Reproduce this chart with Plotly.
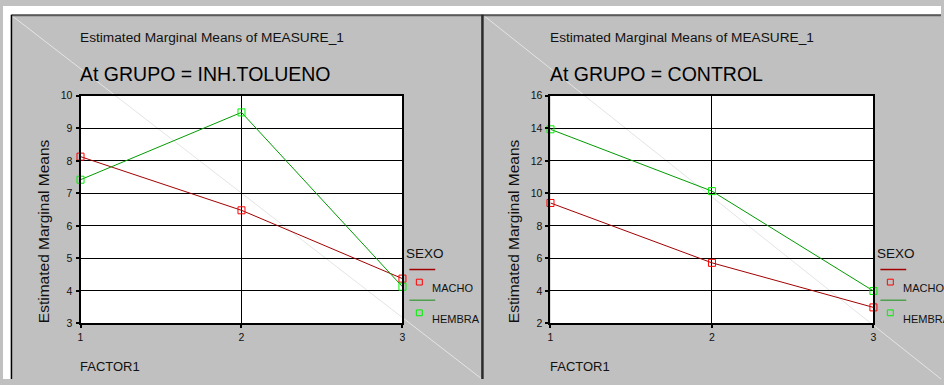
import plotly.graph_objects as go

# Estimated marginal means of MEASURE_1, by FACTOR1 level and SEXO, per GRUPO
factor_levels = [1, 2, 3]
groups = ["INH.TOLUENO", "CONTROL"]
macho_tolueno = [8.13, 6.48, 4.38]
hembra_tolueno = [7.42, 9.49, 4.13]
macho_control = [9.41, 5.73, 2.99]
hembra_control = [13.94, 10.14, 4.00]
y_ranges = [[3, 10], [2, 16]]
y_dticks = [1, 2]

W, H = 944, 385
FONT = "Liberation Sans, Arial, sans-serif"
GREY = "#c0c0c0"
MACHO_LINE, MACHO_MARK = "#a00000", "#ff0000"
HEMBRA_LINE, HEMBRA_MARK = "#009a00", "#00f000"
LEG_MACHO, LEG_HEMBRA = "#a00000", "#50a050"


def fx(p):
    return p / W


def fy(p):
    return 1 - p / H


# plot areas in pixels: left, right, top, bottom
areas = [(78, 402, 92.7, 327.7), (551, 876, 92.7, 327.7)]

fig = go.Figure()
series = [(macho_tolueno, hembra_tolueno), (macho_control, hembra_control)]
for i, (macho, hembra) in enumerate(series):
    ax = "" if i == 0 else "2"
    for vals, lc, mc, name in [(macho, MACHO_LINE, MACHO_MARK, "MACHO"),
                               (hembra, HEMBRA_LINE, HEMBRA_MARK, "HEMBRA")]:
        fig.add_trace(go.Scatter(
            x=factor_levels, y=vals, mode="lines+markers", name=name,
            xaxis="x" + ax, yaxis="y" + ax, showlegend=False, cliponaxis=False,
            line=dict(color=lc, width=1),
            marker=dict(symbol="square-open", size=7, color=mc, line=dict(color=mc, width=1)),
        ))

axis_common = dict(
    showline=True, linecolor="black", linewidth=2, mirror=True,
    showgrid=True, gridcolor="#000000", gridwidth=1,
    ticks="outside", ticklen=3, tickwidth=2, tickcolor="black",
    tickfont=dict(family=FONT, size=10.5, color="#111111"),
    zeroline=False, fixedrange=True,
)

layout = dict(
    width=W, height=H, autosize=False,
    margin=dict(l=0, r=0, t=0, b=0, pad=0),
    paper_bgcolor=GREY, plot_bgcolor="white",
    showlegend=False,
)
for i, (l, r, t, b) in enumerate(areas):
    ax = "" if i == 0 else "2"
    layout["xaxis" + ax] = dict(
        axis_common, domain=[fx(l), fx(r)], range=[1, 3],
        tickvals=factor_levels, ticktext=[str(v) for v in factor_levels],
        anchor="y" + ax, ticklabelstandoff=0,
    )
    layout["yaxis" + ax] = dict(
        axis_common, domain=[fy(b), fy(t)], range=y_ranges[i], dtick=y_dticks[i],
        tick0=y_ranges[i][0], anchor="x" + ax, ticklabelstandoff=1,
    )
fig.update_layout(**layout)

shapes = []
annotations = []
panel_x0 = [9, 484]
panel_x1 = [482, 944]
for i, (l, r, t, b) in enumerate(areas):
    px0, px1 = panel_x0[i], panel_x1[i]
    # faint diagonal across the panel
    shapes.append(dict(type="line", xref="paper", yref="paper",
                       x0=fx(px0), y0=fy(10), x1=fx(px1), y1=fy(H),
                       line=dict(color="#e4e4e4", width=1), layer="below"))
    # titles
    annotations.append(dict(text="Estimated Marginal Means of MEASURE_1",
                            x=fx(l - 3), y=fy(32.5), xanchor="left", yanchor="middle",
                            font=dict(family=FONT, size=13.7, color="#111111")))
    annotations.append(dict(text="At GRUPO = " + groups[i],
                            x=fx(l - 3), y=fy(70), xanchor="left", yanchor="middle",
                            font=dict(family=FONT, size=19.5, color="#000000")))
    # axis titles
    annotations.append(dict(text="Estimated Marginal Means", textangle=-90,
                            x=fx(l - 37), y=fy(b + 2), xanchor="center", yanchor="bottom",
                            font=dict(family=FONT, size=15.5, color="#111111")))
    annotations.append(dict(text="FACTOR1",
                            x=fx(l - 3), y=fy(371.7), xanchor="left", yanchor="middle",
                            font=dict(family=FONT, size=13, color="#111111")))
    # legend
    lx = r + 5
    annotations.append(dict(text="SEXO", x=fx(lx - 3), y=fy(255), xanchor="left",
                            yanchor="middle",
                            font=dict(family=FONT, size=13.5, color="#111111")))
    for row, (lc, mc, name) in enumerate([(LEG_MACHO, MACHO_MARK, "MACHO"),
                                          (LEG_HEMBRA, HEMBRA_MARK, "HEMBRA")]):
        ly = 272 + row * 31.7
        shapes.append(dict(type="line", xref="paper", yref="paper",
                           x0=fx(lx + 2), x1=fx(lx + 28), y0=fy(ly), y1=fy(ly),
                           line=dict(color=lc, width=1.5)))
        mx, my = lx + 12, ly + 13
        shapes.append(dict(type="rect", xref="paper", yref="paper",
                           x0=fx(mx - 3), x1=fx(mx + 3), y0=fy(my - 3), y1=fy(my + 3),
                           line=dict(color=mc, width=1)))
        annotations.append(dict(text=name, x=fx(lx + 23), y=fy(ly + 19), xanchor="left",
                                yanchor="middle",
                                font=dict(family=FONT, size=11, color="#111111")))

# panel frame: top edge, left edge, separator
shapes.append(dict(type="line", xref="paper", yref="paper", x0=fx(9), x1=1,
                   y0=fy(9.5), y1=fy(9.5), line=dict(color="#5a5a5a", width=2)))
shapes.append(dict(type="line", xref="paper", yref="paper", x0=fx(8.5), x1=fx(8.5),
                   y0=fy(9), y1=0, line=dict(color="#000000", width=1.5)))
shapes.append(dict(type="line", xref="paper", yref="paper", x0=fx(482.5), x1=fx(482.5),
                   y0=fy(9), y1=0, line=dict(color="#2a2a2a", width=2.5)))
# white strip above and left of the panels
shapes.append(dict(type="rect", xref="paper", yref="paper", x0=0, x1=1,
                   y0=fy(8.5), y1=1, fillcolor="white", line=dict(width=0), layer="below"))
shapes.append(dict(type="rect", xref="paper", yref="paper", x0=0, x1=fx(8),
                   y0=0, y1=1, fillcolor="white", line=dict(width=0), layer="below"))

for a in annotations:
    a.update(xref="paper", yref="paper", showarrow=False)
fig.update_layout(shapes=shapes, annotations=annotations)

fig.write_html("out.html", config={"displayModeBar": False})
